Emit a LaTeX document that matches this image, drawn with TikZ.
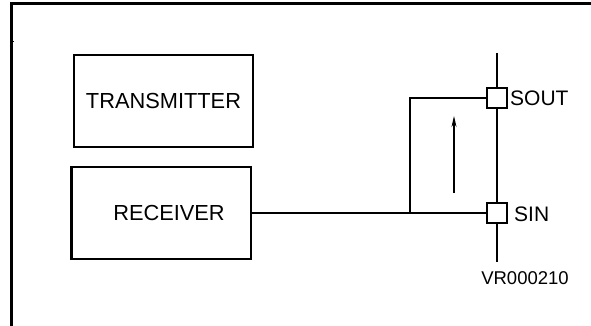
\documentclass[tikz,border=0pt]{standalone}
\usepackage{fontspec}
\setmainfont{Liberation Sans}
\usetikzlibrary{arrows.meta}
\begin{document}
\begin{tikzpicture}[
      x=1pt, y=-1pt,
      box_style/.style={draw, black, line width=1.2pt, minimum width=179pt, minimum height=92pt, inner sep=0pt, font=\fontsize{21.8}{24}\selectfont},
      pin_style/.style={draw, black, line width=1.1pt, fill=white, minimum size=20pt, inner sep=0pt},
      wire_style/.style={draw, black, line width=1.2pt},
      label_style/.style={font=\fontsize{21}{24}\selectfont, inner sep=0pt}
  ]
      \useasboundingbox (0,0) rectangle (591,326);

      % frame
      \draw[line width=3pt] (11,326) -- (11,4) -- (591,4);
      \draw[line width=1pt] (11,42) -- (14,42);

      % blocks
      \node[box_style] (tx) at (163.5,101) {TRANSMITTER};
      \node[box_style] (rx) at (161.5,213) {\hspace*{15pt}RECEIVER};
      \draw[line width=2.2pt] (rx.north west) -- (rx.south west);

      % bus and pins
      \coordinate (bus_top) at (497,53);
      \coordinate (bus_bot) at (497,262);
      \coordinate (tap) at (410,213);
      \node[pin_style] (sout) at (497,98) {};
      \node[pin_style] (sin) at (497,213) {};
      \draw[wire_style] (bus_top) -- (sout.north);
      \draw[wire_style] (sout.south) -- (sin.north);
      \draw[wire_style] (sin.south) -- (bus_bot);
      \draw[wire_style] (rx.east) -- (sin.west);
      \draw[wire_style] (tap) |- (sout.west);

      % direction
      \coordinate (arr_start) at (454,193);
      \coordinate (arr_end) at (454,116);
      \draw[wire_style, -{Stealth[length=11pt, width=5pt]}] (arr_start) -- (arr_end);

      \node[label_style, anchor=west] (sout_label) at (510,98) {SOUT};
      \node[label_style, anchor=west] (sin_label) at (514,214) {SIN};
      \node[font=\fontsize{18.5}{22}\selectfont, inner sep=0pt] (ref_label) at (525,278) {VR000210};
  \end{tikzpicture}
\end{document}
